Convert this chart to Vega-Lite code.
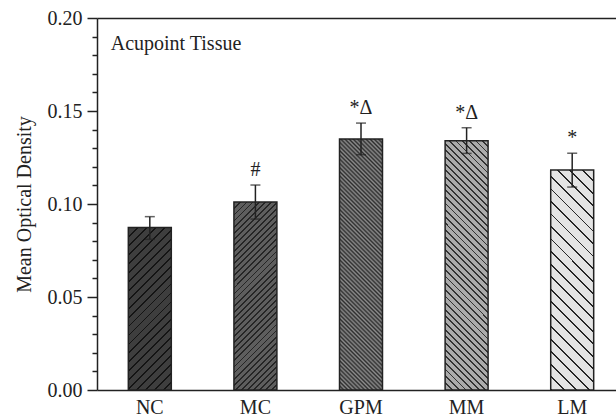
{
  "$schema": "https://vega.github.io/schema/vega-lite/v6.json",
  "width": 519,
  "height": 372,
  "autosize": "none",
  "padding": {"left": 97, "top": 18, "right": 0, "bottom": 29},
  "background": "white",
  "config": {
    "view": {"stroke": null},
    "font": "Liberation Serif",
    "axis": {"domainColor": "#222", "tickColor": "#222", "labelColor": "#222", "titleColor": "#222", "domainWidth": 1.5, "tickWidth": 1.5, "grid": false, "labelFont": "Liberation Serif", "titleFont": "Liberation Serif"}
  },
  "data": {"values": [
    {"group": "NC", "mean": 0.0873, "lo": 0.081, "hi": 0.0932, "sig": ""},
    {"group": "MC", "mean": 0.1011, "lo": 0.0919, "hi": 0.1102, "sig": "#"},
    {"group": "GPM", "mean": 0.135, "lo": 0.1265, "hi": 0.1435, "sig": "*Δ"},
    {"group": "MM", "mean": 0.134, "lo": 0.1272, "hi": 0.141, "sig": "*Δ"},
    {"group": "LM", "mean": 0.1183, "lo": 0.1091, "hi": 0.1273, "sig": "*"}
  ]},
  "resolve": {"axis": {"x": "independent", "y": "independent"}},
  "layer": [
    {
      "transform": [{"filter": "datum.group === 'NC'"}],
      "mark": {"type": "bar", "stroke": "#222", "strokeWidth": 1.5,
        "fill": {"gradient": "linear", "x1": 0, "y1": 0, "x2": 0.313, "y2": 1.182, "stops": [
          {"offset": 0, "color": "#141414"}, {"offset": 0.0087, "color": "#141414"}, {"offset": 0.0087, "color": "#3e3e3e"}, {"offset": 0.0435, "color": "#3e3e3e"},
          {"offset": 0.0435, "color": "#141414"}, {"offset": 0.0522, "color": "#141414"}, {"offset": 0.0522, "color": "#3e3e3e"}, {"offset": 0.087, "color": "#3e3e3e"},
          {"offset": 0.087, "color": "#141414"}, {"offset": 0.0957, "color": "#141414"}, {"offset": 0.0957, "color": "#3e3e3e"}, {"offset": 0.1304, "color": "#3e3e3e"},
          {"offset": 0.1304, "color": "#141414"}, {"offset": 0.1391, "color": "#141414"}, {"offset": 0.1391, "color": "#3e3e3e"}, {"offset": 0.1739, "color": "#3e3e3e"},
          {"offset": 0.1739, "color": "#141414"}, {"offset": 0.1826, "color": "#141414"}, {"offset": 0.1826, "color": "#3e3e3e"}, {"offset": 0.2174, "color": "#3e3e3e"},
          {"offset": 0.2174, "color": "#141414"}, {"offset": 0.2261, "color": "#141414"}, {"offset": 0.2261, "color": "#3e3e3e"}, {"offset": 0.2609, "color": "#3e3e3e"},
          {"offset": 0.2609, "color": "#141414"}, {"offset": 0.2696, "color": "#141414"}, {"offset": 0.2696, "color": "#3e3e3e"}, {"offset": 0.3043, "color": "#3e3e3e"},
          {"offset": 0.3043, "color": "#141414"}, {"offset": 0.313, "color": "#141414"}, {"offset": 0.313, "color": "#3e3e3e"}, {"offset": 0.3478, "color": "#3e3e3e"},
          {"offset": 0.3478, "color": "#141414"}, {"offset": 0.3565, "color": "#141414"}, {"offset": 0.3565, "color": "#3e3e3e"}, {"offset": 0.3913, "color": "#3e3e3e"},
          {"offset": 0.3913, "color": "#141414"}, {"offset": 0.4, "color": "#141414"}, {"offset": 0.4, "color": "#3e3e3e"}, {"offset": 0.4348, "color": "#3e3e3e"},
          {"offset": 0.4348, "color": "#141414"}, {"offset": 0.4435, "color": "#141414"}, {"offset": 0.4435, "color": "#3e3e3e"}, {"offset": 0.4783, "color": "#3e3e3e"},
          {"offset": 0.4783, "color": "#141414"}, {"offset": 0.487, "color": "#141414"}, {"offset": 0.487, "color": "#3e3e3e"}, {"offset": 0.5217, "color": "#3e3e3e"},
          {"offset": 0.5217, "color": "#141414"}, {"offset": 0.5304, "color": "#141414"}, {"offset": 0.5304, "color": "#3e3e3e"}, {"offset": 0.5652, "color": "#3e3e3e"},
          {"offset": 0.5652, "color": "#141414"}, {"offset": 0.5739, "color": "#141414"}, {"offset": 0.5739, "color": "#3e3e3e"}, {"offset": 0.6087, "color": "#3e3e3e"},
          {"offset": 0.6087, "color": "#141414"}, {"offset": 0.6174, "color": "#141414"}, {"offset": 0.6174, "color": "#3e3e3e"}, {"offset": 0.6522, "color": "#3e3e3e"},
          {"offset": 0.6522, "color": "#141414"}, {"offset": 0.6609, "color": "#141414"}, {"offset": 0.6609, "color": "#3e3e3e"}, {"offset": 0.6957, "color": "#3e3e3e"},
          {"offset": 0.6957, "color": "#141414"}, {"offset": 0.7043, "color": "#141414"}, {"offset": 0.7043, "color": "#3e3e3e"}, {"offset": 0.7391, "color": "#3e3e3e"},
          {"offset": 0.7391, "color": "#141414"}, {"offset": 0.7478, "color": "#141414"}, {"offset": 0.7478, "color": "#3e3e3e"}, {"offset": 0.7826, "color": "#3e3e3e"},
          {"offset": 0.7826, "color": "#141414"}, {"offset": 0.7913, "color": "#141414"}, {"offset": 0.7913, "color": "#3e3e3e"}, {"offset": 0.8261, "color": "#3e3e3e"},
          {"offset": 0.8261, "color": "#141414"}, {"offset": 0.8348, "color": "#141414"}, {"offset": 0.8348, "color": "#3e3e3e"}, {"offset": 0.8696, "color": "#3e3e3e"},
          {"offset": 0.8696, "color": "#141414"}, {"offset": 0.8783, "color": "#141414"}, {"offset": 0.8783, "color": "#3e3e3e"}, {"offset": 0.913, "color": "#3e3e3e"},
          {"offset": 0.913, "color": "#141414"}, {"offset": 0.9217, "color": "#141414"}, {"offset": 0.9217, "color": "#3e3e3e"}, {"offset": 0.9565, "color": "#3e3e3e"},
          {"offset": 0.9565, "color": "#141414"}, {"offset": 0.9652, "color": "#141414"}, {"offset": 0.9652, "color": "#3e3e3e"}, {"offset": 1, "color": "#3e3e3e"}
        ]}},
      "encoding": {
        "x": {"field": "group", "type": "nominal", "sort": null,
          "scale": {"domain": ["NC", "MC", "GPM", "MM", "LM"], "paddingInner": 0.593, "paddingOuter": 0.254, "align": 0.584, "round": false},
          "axis": {"orient": "bottom", "title": null, "ticks": false, "labelAngle": 0, "labelFontSize": 20, "labelPadding": 7, "domainWidth": 1.5}},
        "y": {"field": "mean", "type": "quantitative",
          "scale": {"domain": [0, 0.2], "nice": false, "zero": true},
          "axis": {"values": [0, 0.05, 0.1, 0.15, 0.2], "format": ".2f", "tickSize": 10, "labelFontSize": 20, "labelPadding": 5, "title": "Mean Optical Density", "titleFontSize": 20, "titleFontWeight": "normal", "titlePadding": 13}}
      }
    },
    {
      "transform": [{"filter": "datum.group === 'MC'"}],
      "mark": {"type": "bar", "stroke": "#222", "strokeWidth": 1.5,
        "fill": {"gradient": "linear", "x1": 0, "y1": 0, "x2": 0.2671, "y2": 1.1677, "stops": [
          {"offset": 0, "color": "#262626"}, {"offset": 0.0079, "color": "#262626"}, {"offset": 0.0079, "color": "#5e5e5e"}, {"offset": 0.0263, "color": "#5e5e5e"},
          {"offset": 0.0263, "color": "#262626"}, {"offset": 0.0342, "color": "#262626"}, {"offset": 0.0342, "color": "#5e5e5e"}, {"offset": 0.0526, "color": "#5e5e5e"},
          {"offset": 0.0526, "color": "#262626"}, {"offset": 0.0605, "color": "#262626"}, {"offset": 0.0605, "color": "#5e5e5e"}, {"offset": 0.0789, "color": "#5e5e5e"},
          {"offset": 0.0789, "color": "#262626"}, {"offset": 0.0868, "color": "#262626"}, {"offset": 0.0868, "color": "#5e5e5e"}, {"offset": 0.1053, "color": "#5e5e5e"},
          {"offset": 0.1053, "color": "#262626"}, {"offset": 0.1132, "color": "#262626"}, {"offset": 0.1132, "color": "#5e5e5e"}, {"offset": 0.1316, "color": "#5e5e5e"},
          {"offset": 0.1316, "color": "#262626"}, {"offset": 0.1395, "color": "#262626"}, {"offset": 0.1395, "color": "#5e5e5e"}, {"offset": 0.1579, "color": "#5e5e5e"},
          {"offset": 0.1579, "color": "#262626"}, {"offset": 0.1658, "color": "#262626"}, {"offset": 0.1658, "color": "#5e5e5e"}, {"offset": 0.1842, "color": "#5e5e5e"},
          {"offset": 0.1842, "color": "#262626"}, {"offset": 0.1921, "color": "#262626"}, {"offset": 0.1921, "color": "#5e5e5e"}, {"offset": 0.2105, "color": "#5e5e5e"},
          {"offset": 0.2105, "color": "#262626"}, {"offset": 0.2184, "color": "#262626"}, {"offset": 0.2184, "color": "#5e5e5e"}, {"offset": 0.2368, "color": "#5e5e5e"},
          {"offset": 0.2368, "color": "#262626"}, {"offset": 0.2447, "color": "#262626"}, {"offset": 0.2447, "color": "#5e5e5e"}, {"offset": 0.2632, "color": "#5e5e5e"},
          {"offset": 0.2632, "color": "#262626"}, {"offset": 0.2711, "color": "#262626"}, {"offset": 0.2711, "color": "#5e5e5e"}, {"offset": 0.2895, "color": "#5e5e5e"},
          {"offset": 0.2895, "color": "#262626"}, {"offset": 0.2974, "color": "#262626"}, {"offset": 0.2974, "color": "#5e5e5e"}, {"offset": 0.3158, "color": "#5e5e5e"},
          {"offset": 0.3158, "color": "#262626"}, {"offset": 0.3237, "color": "#262626"}, {"offset": 0.3237, "color": "#5e5e5e"}, {"offset": 0.3421, "color": "#5e5e5e"},
          {"offset": 0.3421, "color": "#262626"}, {"offset": 0.35, "color": "#262626"}, {"offset": 0.35, "color": "#5e5e5e"}, {"offset": 0.3684, "color": "#5e5e5e"},
          {"offset": 0.3684, "color": "#262626"}, {"offset": 0.3763, "color": "#262626"}, {"offset": 0.3763, "color": "#5e5e5e"}, {"offset": 0.3947, "color": "#5e5e5e"},
          {"offset": 0.3947, "color": "#262626"}, {"offset": 0.4026, "color": "#262626"}, {"offset": 0.4026, "color": "#5e5e5e"}, {"offset": 0.4211, "color": "#5e5e5e"},
          {"offset": 0.4211, "color": "#262626"}, {"offset": 0.4289, "color": "#262626"}, {"offset": 0.4289, "color": "#5e5e5e"}, {"offset": 0.4474, "color": "#5e5e5e"},
          {"offset": 0.4474, "color": "#262626"}, {"offset": 0.4553, "color": "#262626"}, {"offset": 0.4553, "color": "#5e5e5e"}, {"offset": 0.4737, "color": "#5e5e5e"},
          {"offset": 0.4737, "color": "#262626"}, {"offset": 0.4816, "color": "#262626"}, {"offset": 0.4816, "color": "#5e5e5e"}, {"offset": 0.5, "color": "#5e5e5e"},
          {"offset": 0.5, "color": "#262626"}, {"offset": 0.5079, "color": "#262626"}, {"offset": 0.5079, "color": "#5e5e5e"}, {"offset": 0.5263, "color": "#5e5e5e"},
          {"offset": 0.5263, "color": "#262626"}, {"offset": 0.5342, "color": "#262626"}, {"offset": 0.5342, "color": "#5e5e5e"}, {"offset": 0.5526, "color": "#5e5e5e"},
          {"offset": 0.5526, "color": "#262626"}, {"offset": 0.5605, "color": "#262626"}, {"offset": 0.5605, "color": "#5e5e5e"}, {"offset": 0.5789, "color": "#5e5e5e"},
          {"offset": 0.5789, "color": "#262626"}, {"offset": 0.5868, "color": "#262626"}, {"offset": 0.5868, "color": "#5e5e5e"}, {"offset": 0.6053, "color": "#5e5e5e"},
          {"offset": 0.6053, "color": "#262626"}, {"offset": 0.6132, "color": "#262626"}, {"offset": 0.6132, "color": "#5e5e5e"}, {"offset": 0.6316, "color": "#5e5e5e"},
          {"offset": 0.6316, "color": "#262626"}, {"offset": 0.6395, "color": "#262626"}, {"offset": 0.6395, "color": "#5e5e5e"}, {"offset": 0.6579, "color": "#5e5e5e"},
          {"offset": 0.6579, "color": "#262626"}, {"offset": 0.6658, "color": "#262626"}, {"offset": 0.6658, "color": "#5e5e5e"}, {"offset": 0.6842, "color": "#5e5e5e"},
          {"offset": 0.6842, "color": "#262626"}, {"offset": 0.6921, "color": "#262626"}, {"offset": 0.6921, "color": "#5e5e5e"}, {"offset": 0.7105, "color": "#5e5e5e"},
          {"offset": 0.7105, "color": "#262626"}, {"offset": 0.7184, "color": "#262626"}, {"offset": 0.7184, "color": "#5e5e5e"}, {"offset": 0.7368, "color": "#5e5e5e"},
          {"offset": 0.7368, "color": "#262626"}, {"offset": 0.7447, "color": "#262626"}, {"offset": 0.7447, "color": "#5e5e5e"}, {"offset": 0.7632, "color": "#5e5e5e"},
          {"offset": 0.7632, "color": "#262626"}, {"offset": 0.7711, "color": "#262626"}, {"offset": 0.7711, "color": "#5e5e5e"}, {"offset": 0.7895, "color": "#5e5e5e"},
          {"offset": 0.7895, "color": "#262626"}, {"offset": 0.7974, "color": "#262626"}, {"offset": 0.7974, "color": "#5e5e5e"}, {"offset": 0.8158, "color": "#5e5e5e"},
          {"offset": 0.8158, "color": "#262626"}, {"offset": 0.8237, "color": "#262626"}, {"offset": 0.8237, "color": "#5e5e5e"}, {"offset": 0.8421, "color": "#5e5e5e"},
          {"offset": 0.8421, "color": "#262626"}, {"offset": 0.85, "color": "#262626"}, {"offset": 0.85, "color": "#5e5e5e"}, {"offset": 0.8684, "color": "#5e5e5e"},
          {"offset": 0.8684, "color": "#262626"}, {"offset": 0.8763, "color": "#262626"}, {"offset": 0.8763, "color": "#5e5e5e"}, {"offset": 0.8947, "color": "#5e5e5e"},
          {"offset": 0.8947, "color": "#262626"}, {"offset": 0.9026, "color": "#262626"}, {"offset": 0.9026, "color": "#5e5e5e"}, {"offset": 0.9211, "color": "#5e5e5e"},
          {"offset": 0.9211, "color": "#262626"}, {"offset": 0.9289, "color": "#262626"}, {"offset": 0.9289, "color": "#5e5e5e"}, {"offset": 0.9474, "color": "#5e5e5e"},
          {"offset": 0.9474, "color": "#262626"}, {"offset": 0.9553, "color": "#262626"}, {"offset": 0.9553, "color": "#5e5e5e"}, {"offset": 0.9737, "color": "#5e5e5e"},
          {"offset": 0.9737, "color": "#262626"}, {"offset": 0.9816, "color": "#262626"}, {"offset": 0.9816, "color": "#5e5e5e"}, {"offset": 1, "color": "#5e5e5e"}
        ]}},
      "encoding": {
        "x": {"field": "group", "type": "nominal", "sort": null, "scale": {"domain": ["NC", "MC", "GPM", "MM", "LM"]}, "axis": null},
        "y": {"field": "mean", "type": "quantitative", "axis": null}
      }
    },
    {
      "transform": [{"filter": "datum.group === 'GPM'"}],
      "mark": {"type": "bar", "stroke": "#222", "strokeWidth": 1.5,
        "fill": {"gradient": "linear", "x1": 0, "y1": 1, "x2": 0.1949, "y2": -0.1379, "stops": [
          {"offset": 0, "color": "#2e2e2e"}, {"offset": 0.0071, "color": "#8c8c8c"}, {"offset": 0.0143, "color": "#2e2e2e"}, {"offset": 0.0214, "color": "#8c8c8c"},
          {"offset": 0.0286, "color": "#2e2e2e"}, {"offset": 0.0357, "color": "#8c8c8c"}, {"offset": 0.0429, "color": "#2e2e2e"}, {"offset": 0.05, "color": "#8c8c8c"},
          {"offset": 0.0571, "color": "#2e2e2e"}, {"offset": 0.0643, "color": "#8c8c8c"}, {"offset": 0.0714, "color": "#2e2e2e"}, {"offset": 0.0786, "color": "#8c8c8c"},
          {"offset": 0.0857, "color": "#2e2e2e"}, {"offset": 0.0929, "color": "#8c8c8c"}, {"offset": 0.1, "color": "#2e2e2e"}, {"offset": 0.1071, "color": "#8c8c8c"},
          {"offset": 0.1143, "color": "#2e2e2e"}, {"offset": 0.1214, "color": "#8c8c8c"}, {"offset": 0.1286, "color": "#2e2e2e"}, {"offset": 0.1357, "color": "#8c8c8c"},
          {"offset": 0.1429, "color": "#2e2e2e"}, {"offset": 0.15, "color": "#8c8c8c"}, {"offset": 0.1571, "color": "#2e2e2e"}, {"offset": 0.1643, "color": "#8c8c8c"},
          {"offset": 0.1714, "color": "#2e2e2e"}, {"offset": 0.1786, "color": "#8c8c8c"}, {"offset": 0.1857, "color": "#2e2e2e"}, {"offset": 0.1929, "color": "#8c8c8c"},
          {"offset": 0.2, "color": "#2e2e2e"}, {"offset": 0.2071, "color": "#8c8c8c"}, {"offset": 0.2143, "color": "#2e2e2e"}, {"offset": 0.2214, "color": "#8c8c8c"},
          {"offset": 0.2286, "color": "#2e2e2e"}, {"offset": 0.2357, "color": "#8c8c8c"}, {"offset": 0.2429, "color": "#2e2e2e"}, {"offset": 0.25, "color": "#8c8c8c"},
          {"offset": 0.2571, "color": "#2e2e2e"}, {"offset": 0.2643, "color": "#8c8c8c"}, {"offset": 0.2714, "color": "#2e2e2e"}, {"offset": 0.2786, "color": "#8c8c8c"},
          {"offset": 0.2857, "color": "#2e2e2e"}, {"offset": 0.2929, "color": "#8c8c8c"}, {"offset": 0.3, "color": "#2e2e2e"}, {"offset": 0.3071, "color": "#8c8c8c"},
          {"offset": 0.3143, "color": "#2e2e2e"}, {"offset": 0.3214, "color": "#8c8c8c"}, {"offset": 0.3286, "color": "#2e2e2e"}, {"offset": 0.3357, "color": "#8c8c8c"},
          {"offset": 0.3429, "color": "#2e2e2e"}, {"offset": 0.35, "color": "#8c8c8c"}, {"offset": 0.3571, "color": "#2e2e2e"}, {"offset": 0.3643, "color": "#8c8c8c"},
          {"offset": 0.3714, "color": "#2e2e2e"}, {"offset": 0.3786, "color": "#8c8c8c"}, {"offset": 0.3857, "color": "#2e2e2e"}, {"offset": 0.3929, "color": "#8c8c8c"},
          {"offset": 0.4, "color": "#2e2e2e"}, {"offset": 0.4071, "color": "#8c8c8c"}, {"offset": 0.4143, "color": "#2e2e2e"}, {"offset": 0.4214, "color": "#8c8c8c"},
          {"offset": 0.4286, "color": "#2e2e2e"}, {"offset": 0.4357, "color": "#8c8c8c"}, {"offset": 0.4429, "color": "#2e2e2e"}, {"offset": 0.45, "color": "#8c8c8c"},
          {"offset": 0.4571, "color": "#2e2e2e"}, {"offset": 0.4643, "color": "#8c8c8c"}, {"offset": 0.4714, "color": "#2e2e2e"}, {"offset": 0.4786, "color": "#8c8c8c"},
          {"offset": 0.4857, "color": "#2e2e2e"}, {"offset": 0.4929, "color": "#8c8c8c"}, {"offset": 0.5, "color": "#2e2e2e"}, {"offset": 0.5071, "color": "#8c8c8c"},
          {"offset": 0.5143, "color": "#2e2e2e"}, {"offset": 0.5214, "color": "#8c8c8c"}, {"offset": 0.5286, "color": "#2e2e2e"}, {"offset": 0.5357, "color": "#8c8c8c"},
          {"offset": 0.5429, "color": "#2e2e2e"}, {"offset": 0.55, "color": "#8c8c8c"}, {"offset": 0.5571, "color": "#2e2e2e"}, {"offset": 0.5643, "color": "#8c8c8c"},
          {"offset": 0.5714, "color": "#2e2e2e"}, {"offset": 0.5786, "color": "#8c8c8c"}, {"offset": 0.5857, "color": "#2e2e2e"}, {"offset": 0.5929, "color": "#8c8c8c"},
          {"offset": 0.6, "color": "#2e2e2e"}, {"offset": 0.6071, "color": "#8c8c8c"}, {"offset": 0.6143, "color": "#2e2e2e"}, {"offset": 0.6214, "color": "#8c8c8c"},
          {"offset": 0.6286, "color": "#2e2e2e"}, {"offset": 0.6357, "color": "#8c8c8c"}, {"offset": 0.6429, "color": "#2e2e2e"}, {"offset": 0.65, "color": "#8c8c8c"},
          {"offset": 0.6571, "color": "#2e2e2e"}, {"offset": 0.6643, "color": "#8c8c8c"}, {"offset": 0.6714, "color": "#2e2e2e"}, {"offset": 0.6786, "color": "#8c8c8c"},
          {"offset": 0.6857, "color": "#2e2e2e"}, {"offset": 0.6929, "color": "#8c8c8c"}, {"offset": 0.7, "color": "#2e2e2e"}, {"offset": 0.7071, "color": "#8c8c8c"},
          {"offset": 0.7143, "color": "#2e2e2e"}, {"offset": 0.7214, "color": "#8c8c8c"}, {"offset": 0.7286, "color": "#2e2e2e"}, {"offset": 0.7357, "color": "#8c8c8c"},
          {"offset": 0.7429, "color": "#2e2e2e"}, {"offset": 0.75, "color": "#8c8c8c"}, {"offset": 0.7571, "color": "#2e2e2e"}, {"offset": 0.7643, "color": "#8c8c8c"},
          {"offset": 0.7714, "color": "#2e2e2e"}, {"offset": 0.7786, "color": "#8c8c8c"}, {"offset": 0.7857, "color": "#2e2e2e"}, {"offset": 0.7929, "color": "#8c8c8c"},
          {"offset": 0.8, "color": "#2e2e2e"}, {"offset": 0.8071, "color": "#8c8c8c"}, {"offset": 0.8143, "color": "#2e2e2e"}, {"offset": 0.8214, "color": "#8c8c8c"},
          {"offset": 0.8286, "color": "#2e2e2e"}, {"offset": 0.8357, "color": "#8c8c8c"}, {"offset": 0.8429, "color": "#2e2e2e"}, {"offset": 0.85, "color": "#8c8c8c"},
          {"offset": 0.8571, "color": "#2e2e2e"}, {"offset": 0.8643, "color": "#8c8c8c"}, {"offset": 0.8714, "color": "#2e2e2e"}, {"offset": 0.8786, "color": "#8c8c8c"},
          {"offset": 0.8857, "color": "#2e2e2e"}, {"offset": 0.8929, "color": "#8c8c8c"}, {"offset": 0.9, "color": "#2e2e2e"}, {"offset": 0.9071, "color": "#8c8c8c"},
          {"offset": 0.9143, "color": "#2e2e2e"}, {"offset": 0.9214, "color": "#8c8c8c"}, {"offset": 0.9286, "color": "#2e2e2e"}, {"offset": 0.9357, "color": "#8c8c8c"},
          {"offset": 0.9429, "color": "#2e2e2e"}, {"offset": 0.95, "color": "#8c8c8c"}, {"offset": 0.9571, "color": "#2e2e2e"}, {"offset": 0.9643, "color": "#8c8c8c"},
          {"offset": 0.9714, "color": "#2e2e2e"}, {"offset": 0.9786, "color": "#8c8c8c"}, {"offset": 0.9857, "color": "#2e2e2e"}, {"offset": 0.9929, "color": "#8c8c8c"},
          {"offset": 1, "color": "#2e2e2e"}
        ]}},
      "encoding": {
        "x": {"field": "group", "type": "nominal", "sort": null, "scale": {"domain": ["NC", "MC", "GPM", "MM", "LM"]}, "axis": null},
        "y": {"field": "mean", "type": "quantitative", "axis": null}
      }
    },
    {
      "transform": [{"filter": "datum.group === 'MM'"}],
      "mark": {"type": "bar", "stroke": "#222", "strokeWidth": 1.5,
        "fill": {"gradient": "linear", "x1": 0, "y1": 1, "x2": 0.1965, "y2": -0.1386, "stops": [
          {"offset": 0, "color": "#333333"}, {"offset": 0.0064, "color": "#333333"}, {"offset": 0.0064, "color": "#ababab"}, {"offset": 0.0227, "color": "#ababab"},
          {"offset": 0.0227, "color": "#333333"}, {"offset": 0.0291, "color": "#333333"}, {"offset": 0.0291, "color": "#ababab"}, {"offset": 0.0455, "color": "#ababab"},
          {"offset": 0.0455, "color": "#333333"}, {"offset": 0.0518, "color": "#333333"}, {"offset": 0.0518, "color": "#ababab"}, {"offset": 0.0682, "color": "#ababab"},
          {"offset": 0.0682, "color": "#333333"}, {"offset": 0.0745, "color": "#333333"}, {"offset": 0.0745, "color": "#ababab"}, {"offset": 0.0909, "color": "#ababab"},
          {"offset": 0.0909, "color": "#333333"}, {"offset": 0.0973, "color": "#333333"}, {"offset": 0.0973, "color": "#ababab"}, {"offset": 0.1136, "color": "#ababab"},
          {"offset": 0.1136, "color": "#333333"}, {"offset": 0.12, "color": "#333333"}, {"offset": 0.12, "color": "#ababab"}, {"offset": 0.1364, "color": "#ababab"},
          {"offset": 0.1364, "color": "#333333"}, {"offset": 0.1427, "color": "#333333"}, {"offset": 0.1427, "color": "#ababab"}, {"offset": 0.1591, "color": "#ababab"},
          {"offset": 0.1591, "color": "#333333"}, {"offset": 0.1655, "color": "#333333"}, {"offset": 0.1655, "color": "#ababab"}, {"offset": 0.1818, "color": "#ababab"},
          {"offset": 0.1818, "color": "#333333"}, {"offset": 0.1882, "color": "#333333"}, {"offset": 0.1882, "color": "#ababab"}, {"offset": 0.2045, "color": "#ababab"},
          {"offset": 0.2045, "color": "#333333"}, {"offset": 0.2109, "color": "#333333"}, {"offset": 0.2109, "color": "#ababab"}, {"offset": 0.2273, "color": "#ababab"},
          {"offset": 0.2273, "color": "#333333"}, {"offset": 0.2336, "color": "#333333"}, {"offset": 0.2336, "color": "#ababab"}, {"offset": 0.25, "color": "#ababab"},
          {"offset": 0.25, "color": "#333333"}, {"offset": 0.2564, "color": "#333333"}, {"offset": 0.2564, "color": "#ababab"}, {"offset": 0.2727, "color": "#ababab"},
          {"offset": 0.2727, "color": "#333333"}, {"offset": 0.2791, "color": "#333333"}, {"offset": 0.2791, "color": "#ababab"}, {"offset": 0.2955, "color": "#ababab"},
          {"offset": 0.2955, "color": "#333333"}, {"offset": 0.3018, "color": "#333333"}, {"offset": 0.3018, "color": "#ababab"}, {"offset": 0.3182, "color": "#ababab"},
          {"offset": 0.3182, "color": "#333333"}, {"offset": 0.3245, "color": "#333333"}, {"offset": 0.3245, "color": "#ababab"}, {"offset": 0.3409, "color": "#ababab"},
          {"offset": 0.3409, "color": "#333333"}, {"offset": 0.3473, "color": "#333333"}, {"offset": 0.3473, "color": "#ababab"}, {"offset": 0.3636, "color": "#ababab"},
          {"offset": 0.3636, "color": "#333333"}, {"offset": 0.37, "color": "#333333"}, {"offset": 0.37, "color": "#ababab"}, {"offset": 0.3864, "color": "#ababab"},
          {"offset": 0.3864, "color": "#333333"}, {"offset": 0.3927, "color": "#333333"}, {"offset": 0.3927, "color": "#ababab"}, {"offset": 0.4091, "color": "#ababab"},
          {"offset": 0.4091, "color": "#333333"}, {"offset": 0.4155, "color": "#333333"}, {"offset": 0.4155, "color": "#ababab"}, {"offset": 0.4318, "color": "#ababab"},
          {"offset": 0.4318, "color": "#333333"}, {"offset": 0.4382, "color": "#333333"}, {"offset": 0.4382, "color": "#ababab"}, {"offset": 0.4545, "color": "#ababab"},
          {"offset": 0.4545, "color": "#333333"}, {"offset": 0.4609, "color": "#333333"}, {"offset": 0.4609, "color": "#ababab"}, {"offset": 0.4773, "color": "#ababab"},
          {"offset": 0.4773, "color": "#333333"}, {"offset": 0.4836, "color": "#333333"}, {"offset": 0.4836, "color": "#ababab"}, {"offset": 0.5, "color": "#ababab"},
          {"offset": 0.5, "color": "#333333"}, {"offset": 0.5064, "color": "#333333"}, {"offset": 0.5064, "color": "#ababab"}, {"offset": 0.5227, "color": "#ababab"},
          {"offset": 0.5227, "color": "#333333"}, {"offset": 0.5291, "color": "#333333"}, {"offset": 0.5291, "color": "#ababab"}, {"offset": 0.5455, "color": "#ababab"},
          {"offset": 0.5455, "color": "#333333"}, {"offset": 0.5518, "color": "#333333"}, {"offset": 0.5518, "color": "#ababab"}, {"offset": 0.5682, "color": "#ababab"},
          {"offset": 0.5682, "color": "#333333"}, {"offset": 0.5745, "color": "#333333"}, {"offset": 0.5745, "color": "#ababab"}, {"offset": 0.5909, "color": "#ababab"},
          {"offset": 0.5909, "color": "#333333"}, {"offset": 0.5973, "color": "#333333"}, {"offset": 0.5973, "color": "#ababab"}, {"offset": 0.6136, "color": "#ababab"},
          {"offset": 0.6136, "color": "#333333"}, {"offset": 0.62, "color": "#333333"}, {"offset": 0.62, "color": "#ababab"}, {"offset": 0.6364, "color": "#ababab"},
          {"offset": 0.6364, "color": "#333333"}, {"offset": 0.6427, "color": "#333333"}, {"offset": 0.6427, "color": "#ababab"}, {"offset": 0.6591, "color": "#ababab"},
          {"offset": 0.6591, "color": "#333333"}, {"offset": 0.6655, "color": "#333333"}, {"offset": 0.6655, "color": "#ababab"}, {"offset": 0.6818, "color": "#ababab"},
          {"offset": 0.6818, "color": "#333333"}, {"offset": 0.6882, "color": "#333333"}, {"offset": 0.6882, "color": "#ababab"}, {"offset": 0.7045, "color": "#ababab"},
          {"offset": 0.7045, "color": "#333333"}, {"offset": 0.7109, "color": "#333333"}, {"offset": 0.7109, "color": "#ababab"}, {"offset": 0.7273, "color": "#ababab"},
          {"offset": 0.7273, "color": "#333333"}, {"offset": 0.7336, "color": "#333333"}, {"offset": 0.7336, "color": "#ababab"}, {"offset": 0.75, "color": "#ababab"},
          {"offset": 0.75, "color": "#333333"}, {"offset": 0.7564, "color": "#333333"}, {"offset": 0.7564, "color": "#ababab"}, {"offset": 0.7727, "color": "#ababab"},
          {"offset": 0.7727, "color": "#333333"}, {"offset": 0.7791, "color": "#333333"}, {"offset": 0.7791, "color": "#ababab"}, {"offset": 0.7955, "color": "#ababab"},
          {"offset": 0.7955, "color": "#333333"}, {"offset": 0.8018, "color": "#333333"}, {"offset": 0.8018, "color": "#ababab"}, {"offset": 0.8182, "color": "#ababab"},
          {"offset": 0.8182, "color": "#333333"}, {"offset": 0.8245, "color": "#333333"}, {"offset": 0.8245, "color": "#ababab"}, {"offset": 0.8409, "color": "#ababab"},
          {"offset": 0.8409, "color": "#333333"}, {"offset": 0.8473, "color": "#333333"}, {"offset": 0.8473, "color": "#ababab"}, {"offset": 0.8636, "color": "#ababab"},
          {"offset": 0.8636, "color": "#333333"}, {"offset": 0.87, "color": "#333333"}, {"offset": 0.87, "color": "#ababab"}, {"offset": 0.8864, "color": "#ababab"},
          {"offset": 0.8864, "color": "#333333"}, {"offset": 0.8927, "color": "#333333"}, {"offset": 0.8927, "color": "#ababab"}, {"offset": 0.9091, "color": "#ababab"},
          {"offset": 0.9091, "color": "#333333"}, {"offset": 0.9155, "color": "#333333"}, {"offset": 0.9155, "color": "#ababab"}, {"offset": 0.9318, "color": "#ababab"},
          {"offset": 0.9318, "color": "#333333"}, {"offset": 0.9382, "color": "#333333"}, {"offset": 0.9382, "color": "#ababab"}, {"offset": 0.9545, "color": "#ababab"},
          {"offset": 0.9545, "color": "#333333"}, {"offset": 0.9609, "color": "#333333"}, {"offset": 0.9609, "color": "#ababab"}, {"offset": 0.9773, "color": "#ababab"},
          {"offset": 0.9773, "color": "#333333"}, {"offset": 0.9836, "color": "#333333"}, {"offset": 0.9836, "color": "#ababab"}, {"offset": 1, "color": "#ababab"}
        ]}},
      "encoding": {
        "x": {"field": "group", "type": "nominal", "sort": null, "scale": {"domain": ["NC", "MC", "GPM", "MM", "LM"]}, "axis": null},
        "y": {"field": "mean", "type": "quantitative", "axis": null}
      }
    },
    {
      "transform": [{"filter": "datum.group === 'LM'"}],
      "mark": {"type": "bar", "stroke": "#222", "strokeWidth": 1.5,
        "fill": {"gradient": "linear", "x1": 0, "y1": 1, "x2": 0.2251, "y2": -0.1515, "stops": [
          {"offset": 0, "color": "#262626"}, {"offset": 0.0071, "color": "#262626"}, {"offset": 0.0071, "color": "#e4e4e4"}, {"offset": 0.0476, "color": "#e4e4e4"},
          {"offset": 0.0476, "color": "#262626"}, {"offset": 0.0548, "color": "#262626"}, {"offset": 0.0548, "color": "#e4e4e4"}, {"offset": 0.0952, "color": "#e4e4e4"},
          {"offset": 0.0952, "color": "#262626"}, {"offset": 0.1024, "color": "#262626"}, {"offset": 0.1024, "color": "#e4e4e4"}, {"offset": 0.1429, "color": "#e4e4e4"},
          {"offset": 0.1429, "color": "#262626"}, {"offset": 0.15, "color": "#262626"}, {"offset": 0.15, "color": "#e4e4e4"}, {"offset": 0.1905, "color": "#e4e4e4"},
          {"offset": 0.1905, "color": "#262626"}, {"offset": 0.1976, "color": "#262626"}, {"offset": 0.1976, "color": "#e4e4e4"}, {"offset": 0.2381, "color": "#e4e4e4"},
          {"offset": 0.2381, "color": "#262626"}, {"offset": 0.2452, "color": "#262626"}, {"offset": 0.2452, "color": "#e4e4e4"}, {"offset": 0.2857, "color": "#e4e4e4"},
          {"offset": 0.2857, "color": "#262626"}, {"offset": 0.2929, "color": "#262626"}, {"offset": 0.2929, "color": "#e4e4e4"}, {"offset": 0.3333, "color": "#e4e4e4"},
          {"offset": 0.3333, "color": "#262626"}, {"offset": 0.3405, "color": "#262626"}, {"offset": 0.3405, "color": "#e4e4e4"}, {"offset": 0.381, "color": "#e4e4e4"},
          {"offset": 0.381, "color": "#262626"}, {"offset": 0.3881, "color": "#262626"}, {"offset": 0.3881, "color": "#e4e4e4"}, {"offset": 0.4286, "color": "#e4e4e4"},
          {"offset": 0.4286, "color": "#262626"}, {"offset": 0.4357, "color": "#262626"}, {"offset": 0.4357, "color": "#e4e4e4"}, {"offset": 0.4762, "color": "#e4e4e4"},
          {"offset": 0.4762, "color": "#262626"}, {"offset": 0.4833, "color": "#262626"}, {"offset": 0.4833, "color": "#e4e4e4"}, {"offset": 0.5238, "color": "#e4e4e4"},
          {"offset": 0.5238, "color": "#262626"}, {"offset": 0.531, "color": "#262626"}, {"offset": 0.531, "color": "#e4e4e4"}, {"offset": 0.5714, "color": "#e4e4e4"},
          {"offset": 0.5714, "color": "#262626"}, {"offset": 0.5786, "color": "#262626"}, {"offset": 0.5786, "color": "#e4e4e4"}, {"offset": 0.619, "color": "#e4e4e4"},
          {"offset": 0.619, "color": "#262626"}, {"offset": 0.6262, "color": "#262626"}, {"offset": 0.6262, "color": "#e4e4e4"}, {"offset": 0.6667, "color": "#e4e4e4"},
          {"offset": 0.6667, "color": "#262626"}, {"offset": 0.6738, "color": "#262626"}, {"offset": 0.6738, "color": "#e4e4e4"}, {"offset": 0.7143, "color": "#e4e4e4"},
          {"offset": 0.7143, "color": "#262626"}, {"offset": 0.7214, "color": "#262626"}, {"offset": 0.7214, "color": "#e4e4e4"}, {"offset": 0.7619, "color": "#e4e4e4"},
          {"offset": 0.7619, "color": "#262626"}, {"offset": 0.769, "color": "#262626"}, {"offset": 0.769, "color": "#e4e4e4"}, {"offset": 0.8095, "color": "#e4e4e4"},
          {"offset": 0.8095, "color": "#262626"}, {"offset": 0.8167, "color": "#262626"}, {"offset": 0.8167, "color": "#e4e4e4"}, {"offset": 0.8571, "color": "#e4e4e4"},
          {"offset": 0.8571, "color": "#262626"}, {"offset": 0.8643, "color": "#262626"}, {"offset": 0.8643, "color": "#e4e4e4"}, {"offset": 0.9048, "color": "#e4e4e4"},
          {"offset": 0.9048, "color": "#262626"}, {"offset": 0.9119, "color": "#262626"}, {"offset": 0.9119, "color": "#e4e4e4"}, {"offset": 0.9524, "color": "#e4e4e4"},
          {"offset": 0.9524, "color": "#262626"}, {"offset": 0.9595, "color": "#262626"}, {"offset": 0.9595, "color": "#e4e4e4"}, {"offset": 1, "color": "#e4e4e4"}
        ]}},
      "encoding": {
        "x": {"field": "group", "type": "nominal", "sort": null, "scale": {"domain": ["NC", "MC", "GPM", "MM", "LM"]}, "axis": null},
        "y": {"field": "mean", "type": "quantitative", "axis": null}
      }
    },
    {
      "mark": {"type": "rule", "color": "#222", "strokeWidth": 1.5},
      "encoding": {
        "x": {"field": "group", "type": "nominal", "sort": null,
          "axis": {"orient": "top", "title": null, "ticks": false, "labels": false, "domain": true, "domainWidth": 1.5}},
        "y": {"field": "lo", "type": "quantitative",
          "axis": {"orient": "left", "values": [0.01, 0.02, 0.03, 0.04, 0.06, 0.07, 0.08, 0.09, 0.11, 0.12, 0.13, 0.14, 0.16, 0.17, 0.18, 0.19], "labels": false, "domain": false, "tickSize": 5, "title": null}},
        "y2": {"field": "hi"}
      }
    },
    {
      "mark": {"type": "tick", "color": "#222", "thickness": 1.5, "size": 10},
      "encoding": {
        "x": {"field": "group", "type": "nominal", "sort": null, "axis": null},
        "y": {"field": "hi", "type": "quantitative", "axis": null}
      }
    },
    {
      "mark": {"type": "tick", "color": "#222", "thickness": 1.5, "size": 10},
      "encoding": {
        "x": {"field": "group", "type": "nominal", "sort": null, "axis": null},
        "y": {"field": "lo", "type": "quantitative", "axis": null}
      }
    },
    {
      "mark": {"type": "text", "fontSize": 20, "baseline": "alphabetic", "dy": -9, "color": "#222", "font": "Liberation Serif"},
      "encoding": {
        "x": {"field": "group", "type": "nominal", "sort": null, "axis": null},
        "y": {"field": "hi", "type": "quantitative", "axis": null},
        "text": {"field": "sig"}
      }
    },
    {
      "data": {"values": [{"label": "Acupoint Tissue"}]},
      "mark": {"type": "text", "fontSize": 20, "baseline": "alphabetic", "align": "left", "dx": -17.6, "color": "#222", "font": "Liberation Serif"},
      "encoding": {
        "x": {"datum": "NC", "type": "nominal", "bandPosition": 0, "axis": null},
        "y": {"datum": 0.183, "type": "quantitative", "axis": null},
        "text": {"field": "label"}
      }
    }
  ]
}
